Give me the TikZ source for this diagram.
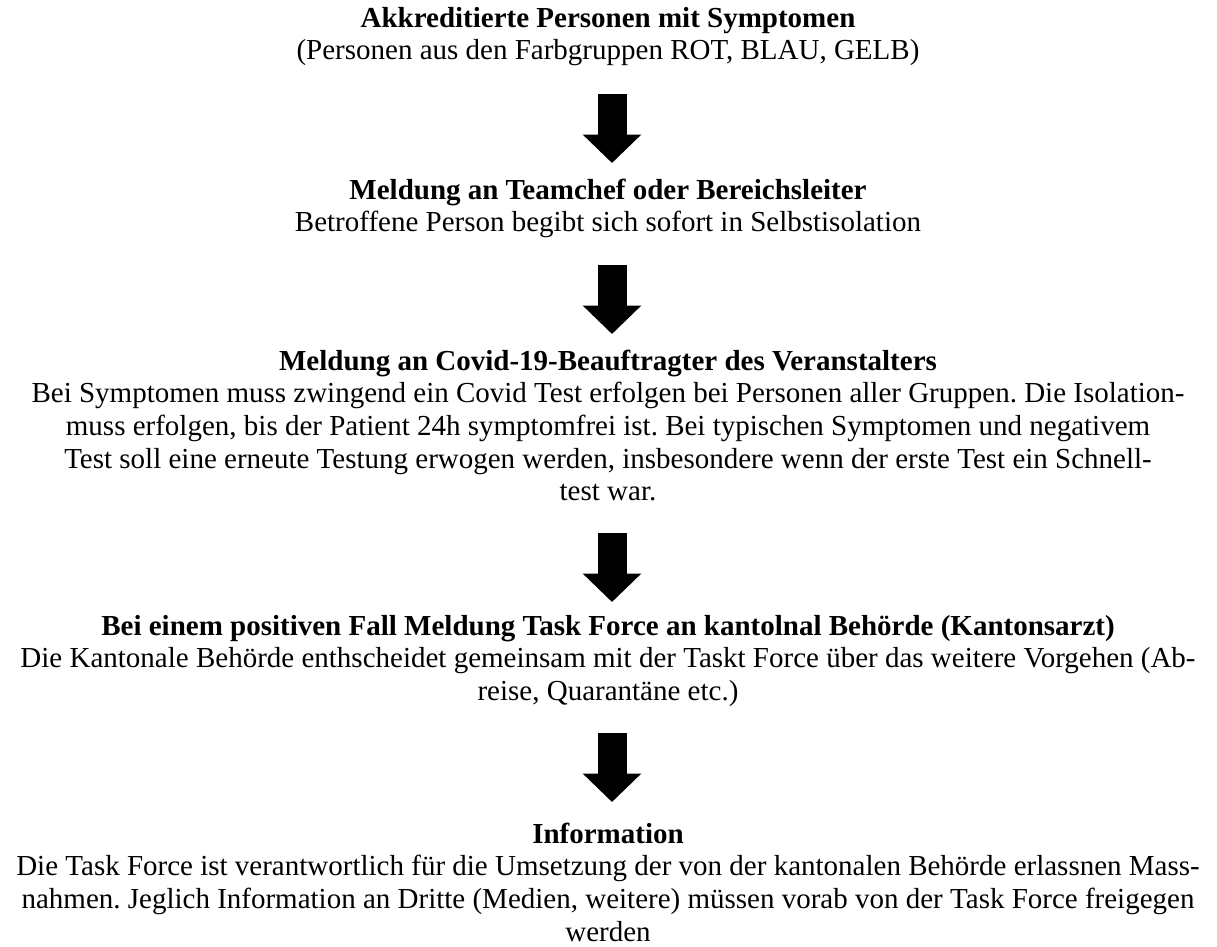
\documentclass[tikz,border=0pt]{standalone}
\usepackage{fontspec}
\setmainfont{Liberation Serif}
\usetikzlibrary{arrows.meta}
\newcommand{\firstline}{\rule{0pt}{24pt}}
\frenchspacing
\begin{document}
\begin{tikzpicture}[x=1pt,y=-1pt,
  block/.style={anchor=north, align=center, inner sep=0pt,
    font=\fontsize{29}{32.6}\selectfont\frenchspacing},
  bigarrow/.style={line width=29pt, line cap=butt,
    -{Triangle[width=57pt,length=28.5pt]}}]
\useasboundingbox (0,0) rectangle (1217,946);

\node[block] (b1) at (608,3) {\firstline\textbf{Akkreditierte Personen mit Symptomen}\\
(Personen aus den Farbgruppen ROT, BLAU, GELB)};

\node[block] (b2) at (608,175) {\firstline\textbf{Meldung an Teamchef oder Bereichsleiter}\\
Betroffene Person begibt sich sofort in Selbstisolation};

\node[block] (b3) at (608,346) {\firstline\textbf{Meldung an Covid-19-Beauftragter des Veranstalters}\\
Bei Symptomen muss zwingend ein Covid Test erfolgen bei Personen aller Gruppen. Die Isolation-\\
muss erfolgen, bis der Patient 24h symptomfrei ist. Bei typischen Symptomen und negativem\\
Test soll eine erneute Testung erwogen werden, insbesondere wenn der erste Test ein Schnell-\\
test war.};

\node[block] (b4) at (608,611) {\firstline\textbf{Bei einem positiven Fall Meldung Task Force an kantolnal Behörde (Kantonsarzt)}\\
Die Kantonale Behörde enthscheidet gemeinsam mit der Taskt Force über das weitere Vorgehen (Ab-\\
reise, Quarantäne etc.)};

\node[block] (b5) at (608,819) {\firstline\textbf{Information}\\
Die Task Force ist verantwortlich für die Umsetzung der von der kantonalen Behörde erlassnen Mass-\\
nahmen. Jeglich Information an Dritte (Medien, weitere) müssen vorab von der Task Force freigegen\\
werden};

\coordinate (a1s) at (612,94);  \coordinate (a1e) at (612,163);
\coordinate (a2s) at (612,265); \coordinate (a2e) at (612,334);
\coordinate (a3s) at (612,533); \coordinate (a3e) at (612,602);
\coordinate (a4s) at (612,733); \coordinate (a4e) at (612,802);

\draw[bigarrow] (a1s) -- (a1e);
\draw[bigarrow] (a2s) -- (a2e);
\draw[bigarrow] (a3s) -- (a3e);
\draw[bigarrow] (a4s) -- (a4e);
\end{tikzpicture}
\end{document}
